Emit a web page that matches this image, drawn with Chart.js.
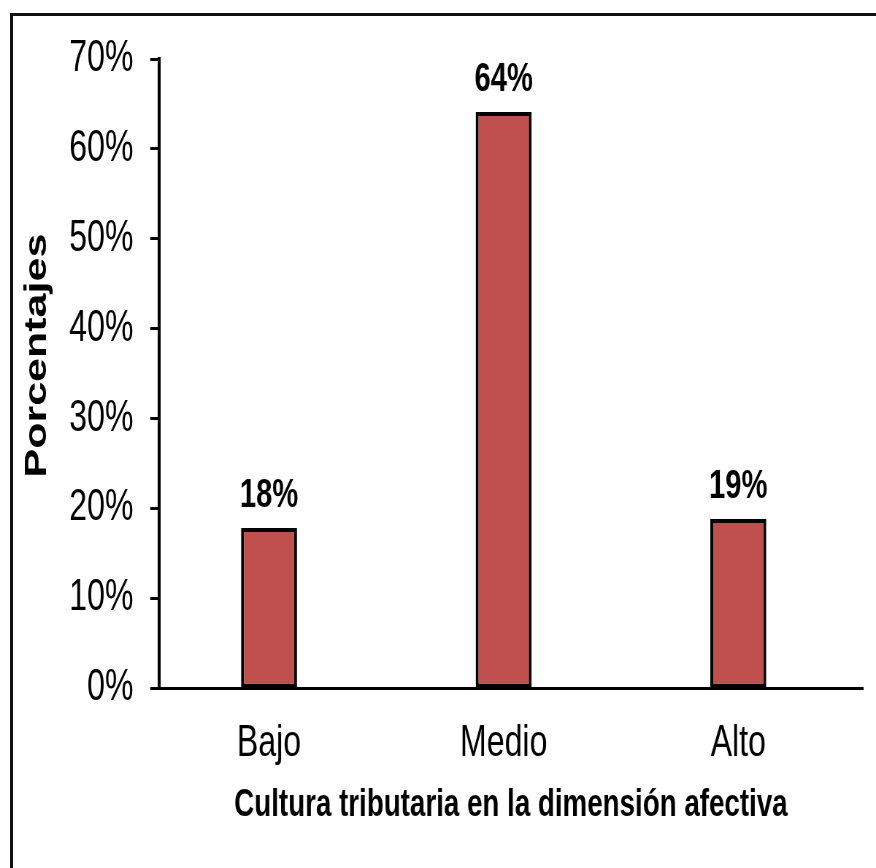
<!DOCTYPE html>
<html>
<head>
<meta charset="utf-8">
<script src="https://cdn.jsdelivr.net/npm/chart.js@4.4.1/dist/chart.umd.min.js"></script>
<style>
  body { margin: 0; background: #fff; overflow: hidden; }
  #wrap { position: relative; width: 876px; height: 868px; overflow: hidden; }
  #frame { position: absolute; left: 10px; top: 13px; width: 900px; height: 900px;
           border-top: 3px solid #111; border-left: 3px solid #111; }
  /* the original picture is squeezed sideways, so draw wide and squeeze it */
  #cultchart { position: absolute; left: 0; top: 0; transform: scaleX(0.73); transform-origin: 0 0; }
</style>
</head>
<body>
<div id="wrap">
  <canvas id="cultchart" width="1200" height="868"></canvas>
  <div id="frame"></div>
</div>
<script>
const categories = ['Bajo', 'Medio', 'Alto'];
const percentages = [17.8, 64.1, 18.8];
const yTicks = [0, 10, 20, 30, 40, 50, 60, 70];

const narrow = "'Liberation Sans Narrow', 'Arial Narrow', 'Liberation Sans', Arial, sans-serif";
const wide = "'Liberation Sans', Arial, sans-serif";

function cultchart(){
    const data = {
      datasets: [
        {
          label: 'Porcentajes',
          data: categories.map((c, i) => ({ x: i, y: percentages[i] })),
          backgroundColor: '#C0504D',
          borderColor: '#000',
          borderWidth: 4,
          borderSkipped: false,
          categoryPercentage: 1,
          barPercentage: 0.2386
        }
      ]
    };

    // value labels on top of the bars
    const valueLabels = {
      id: 'valueLabels',
      afterDatasetsDraw(chart) {
        const ctx = chart.ctx;
        const meta = chart.getDatasetMeta(0);
        ctx.save();
        ctx.font = 'bold 40px ' + narrow;
        ctx.fillStyle = '#000';
        ctx.textAlign = 'center';
        ctx.textBaseline = 'alphabetic';
        meta.data.forEach((bar, i) => {
          ctx.fillText(Math.round(percentages[i]) + '%', bar.x, bar.y - 21);
        });
        ctx.restore();
      }
    };

    const config = {
        type: 'bar',
        data: data,
        options: {
          responsive: false,
          animation: false,
          layout: {
            padding: { left: 0, right: 18, top: 59, bottom: 0 }
          },
          plugins: {
            legend: { display: false },
            tooltip: { enabled: false },
          },
          scales: {
            x: {
              type: 'linear',
              offset: false,
              min: -0.469,
              max: 2.531,
              afterBuildTicks: (scale) => {
                scale.ticks = categories.map((c, i) => ({ value: i }));
              },
              afterFit: (scale) => { scale.height = 180; },
              ticks: {
                color: '#000',
                padding: 21,
                font: { family: narrow, size: 44 },
                callback: (v) => categories[v]
              },
              grid: { display: false },
              border: { display: true, color: '#000', width: 3 },
              title: {
                display: true,
                text: 'Cultura tributaria en la dimensión afectiva',
                color: '#000',
                font: { family: wide, size: 38, weight: 'bold' },
                padding: { top: 0, bottom: 40 }
              }
            },
            y: {
              min: 0,
              max: 70,
              afterBuildTicks: (scale) => {
                scale.ticks = yTicks.map(v => ({ value: v }));
              },
              afterFit: (scale) => { scale.width = 217.8; },
              ticks: {
                color: '#000',
                padding: 23,
                font: { family: narrow, size: 44 },
                callback: (v) => v + '%'
              },
              grid: {
                drawOnChartArea: false,
                drawTicks: true,
                tickLength: 12,
                tickWidth: 3,
                tickColor: '#000',
                color: '#000'
              },
              border: { display: true, color: '#000', width: 4 },
              title: {
                display: true,
                text: '   Porcentajes',
                color: '#000',
                font: { family: wide, size: 43, weight: 'bold' },
                padding: { top: 25, bottom: 0 }
              }
            }
          }
        },
        plugins: [valueLabels]
      };
    const ctx = document.getElementById('cultchart').getContext('2d');
    const chart = new Chart(ctx, config);
}

cultchart();
</script>
</body>
</html>
